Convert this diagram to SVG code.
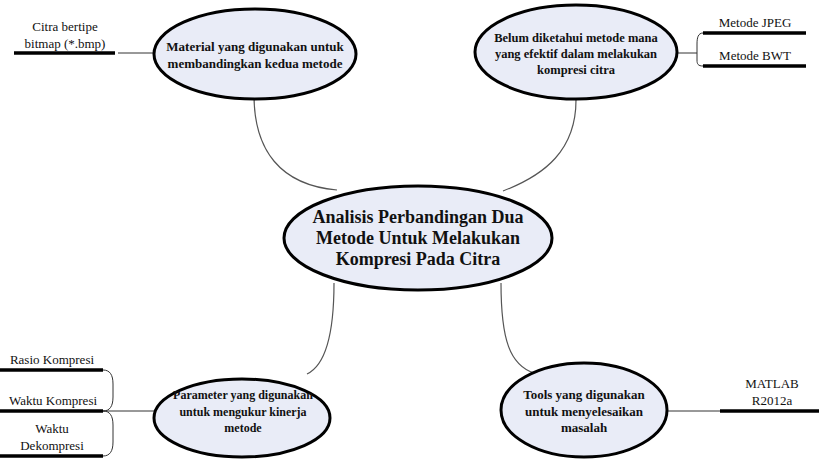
<svg xmlns="http://www.w3.org/2000/svg" width="819" height="472" viewBox="0 0 819 472">
<style>
.node{fill:#e9ecf7;stroke:#000;stroke-width:3}
.conn{fill:none;stroke:#555;stroke-width:1.2}
.thin{fill:none;stroke:#333;stroke-width:1}
.bar{stroke:#000;stroke-width:3.5}
.t{font-family:'Liberation Serif','Times New Roman',serif;font-weight:bold;fill:#111;text-anchor:middle}
.l{font-family:'Liberation Serif','Times New Roman',serif;font-size:13px;fill:#111;text-anchor:middle}
</style>
<rect width="819" height="472" fill="#fff"/>
<g id="connectors">
<path class="conn" d="M254,95 C254,150 280,185 337,190"/>
<path class="conn" d="M576,100 C576,150 545,175 503,191"/>
<path class="conn" d="M334,283 C334,330 326,365 307,374"/>
<path class="conn" d="M501,283 C501,340 510,365 534,373"/>
<path class="thin" d="M118,53 H155"/>
<path class="thin" d="M678,53 H697"/>
<path class="thin" d="M703,33 C698,33 697,38 697,44 L697,53 L697,60 C697,64 698,66 703,66"/>
<path class="thin" d="M103,370 C110,370 113,375 113,384 L113,397 C113,406 110,411 103,411"/>
<path class="thin" d="M103,411 C110,411 113,416 113,425 L113,442 C113,451 110,456 103,456"/>
<path class="thin" d="M103,411 H155"/>
<path class="thin" d="M667,411 H720"/>
</g>
<g id="center">
<ellipse class="node" cx="418" cy="238" rx="134" ry="52"/>
<text class="t" font-size="18" x="418" y="223">Analisis Perbandingan Dua</text>
<text class="t" font-size="18" x="418" y="244">Metode Untuk Melakukan</text>
<text class="t" font-size="18" x="418" y="265">Kompresi Pada Citra</text>
</g>
<g id="material">
<ellipse class="node" cx="255" cy="54" rx="101" ry="45"/>
<text class="t" font-size="13" x="255" y="51">Material yang digunakan untuk</text>
<text class="t" font-size="13" x="255" y="68">membandingkan kedua metode</text>
</g>
<g id="citra">
<line class="bar" x1="14" y1="53" x2="115" y2="53"/>
<text class="l" x="65" y="31">Citra bertipe</text>
<text class="l" x="65" y="48">bitmap (*.bmp)</text>
</g>
<g id="belum">
<ellipse class="node" cx="576" cy="52" rx="101" ry="47"/>
<text class="t" font-size="12.5" x="576" y="42">Belum diketahui metode mana</text>
<text class="t" font-size="12.5" x="576" y="58">yang efektif dalam melakukan</text>
<text class="t" font-size="12.5" x="576" y="74">kompresi citra</text>
</g>
<g id="jpeg">
<line class="bar" x1="703" y1="33" x2="806" y2="33"/>
<text class="l" x="755" y="27">Metode JPEG</text>
</g>
<g id="bwt">
<line class="bar" x1="703" y1="66" x2="806" y2="66"/>
<text class="l" x="755" y="60">Metode BWT</text>
</g>
<g id="parameter">
<ellipse class="node" cx="242" cy="418" rx="88" ry="39"/>
<text class="t" font-size="12" x="243" y="399">Parameter yang digunakan</text>
<text class="t" font-size="12" x="243" y="416">untuk mengukur kinerja</text>
<text class="t" font-size="12" x="243" y="432">metode</text>
</g>
<g id="rasio">
<line class="bar" x1="0" y1="370" x2="103" y2="370"/>
<text class="l" x="52" y="364">Rasio Kompresi</text>
</g>
<g id="waktukompresi">
<line class="bar" x1="0" y1="411" x2="103" y2="411"/>
<text class="l" x="53" y="405">Waktu Kompresi</text>
</g>
<g id="waktudekompresi">
<line class="bar" x1="0" y1="456" x2="103" y2="456"/>
<text class="l" x="52" y="433">Waktu</text>
<text class="l" x="52" y="450">Dekompresi</text>
</g>
<g id="tools">
<ellipse class="node" cx="584" cy="410" rx="83" ry="47"/>
<text class="t" font-size="13" x="584" y="399">Tools yang digunakan</text>
<text class="t" font-size="13" x="584" y="416">untuk menyelesaikan</text>
<text class="t" font-size="13" x="584" y="432">masalah</text>
</g>
<g id="matlab">
<line class="bar" x1="720" y1="411" x2="819" y2="411"/>
<text class="l" x="772" y="388">MATLAB</text>
<text class="l" x="772" y="405">R2012a</text>
</g>
</svg>
